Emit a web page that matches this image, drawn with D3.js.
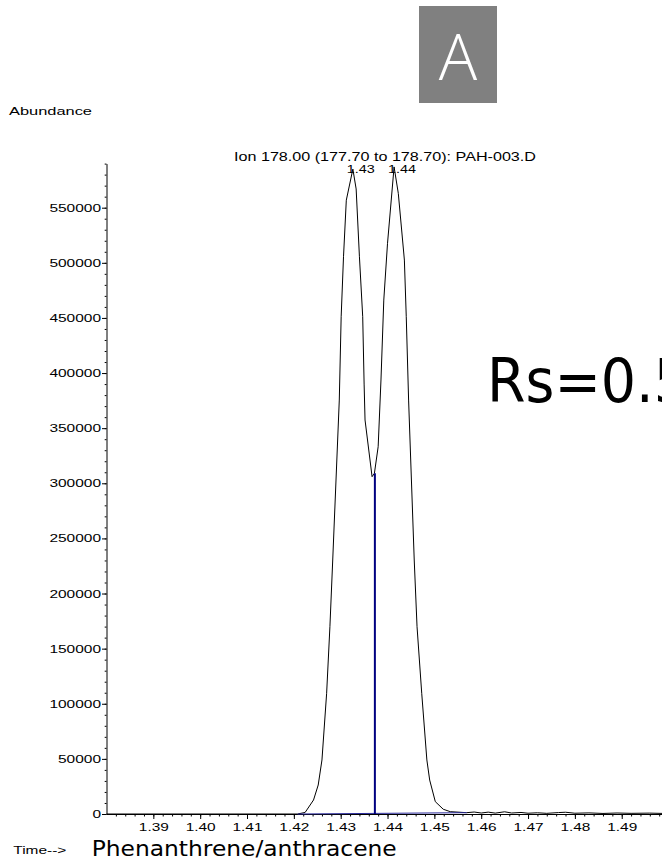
<!DOCTYPE html>
<html>
<head>
<meta charset="utf-8">
<script src="https://cdn.jsdelivr.net/npm/d3@7"></script>
<style>
  html, body { margin: 0; padding: 0; background: #fff; overflow: hidden; }
  svg { display: block; }
</style>
</head>
<body>
<svg id="chart" width="662" height="867"></svg>
<script>
// ---- data ----
const times = [1.3800, 1.4208, 1.4224, 1.4242, 1.4252, 1.4260, 1.4270, 1.4277, 1.4283, 1.4297,
  1.4301, 1.4306, 1.4312, 1.4326, 1.4333, 1.4340, 1.4347, 1.4350, 1.4352, 1.4367,
  1.4372, 1.4380, 1.4386, 1.4392, 1.4400, 1.4414, 1.4423, 1.4436, 1.4440, 1.4445,
  1.4457, 1.4463, 1.4473, 1.4484, 1.4490, 1.4502, 1.4519, 1.4534, 1.4569,
  1.4585, 1.4600, 1.4615, 1.4630, 1.4650, 1.4665, 1.4685, 1.4700, 1.4720, 1.4740,
  1.4765, 1.4780, 1.4800, 1.4830, 1.4860, 1.4890, 1.4920, 1.4960, 1.4990];
const abundance = [0, 0, 1400, 12700, 26300, 49000, 109500, 169900, 230400, 375500,
  451100, 505500, 556800, 585000, 567000, 505500, 451100, 390000, 357400, 306000,
  309000, 333200, 393700, 466200, 517700, 587000, 563000, 502500, 451100, 375500,
  230400, 169900, 109500, 49000, 30800, 11200, 4300, 2100, 1200,
  1800, 900, 1700, 800, 2000, 900, 1400, 700, 1100, 600,
  1300, 1600, 700, 1000, 500, 900, 600, 800, 500];

const peakTimes = [1.4326, 1.4414];
const peakLabels = ["1.43", "1.44"];
const splitTime = 1.4373;       // perpendicular drop between the two peaks
const splitValue = 309000;
const baselineTimes = [1.4208, 1.4569];
const baselineValues = [0, 1200];

const yTicks = [0, 50000, 100000, 150000, 200000, 250000, 300000, 350000, 400000, 450000, 500000, 550000];
const yMinorTicks = d3.range(0, 590001, 10000);
const xTicks = [1.39, 1.40, 1.41, 1.42, 1.43, 1.44, 1.45, 1.46, 1.47, 1.48, 1.49];
const xMinorTicks = d3.range(1382, 1499, 2).map(v => v / 1000);

const titleText = "Ion 178.00 (177.70 to 178.70): PAH-003.D";
const yLabel = "Abundance";
const xLabel = "Time-->";
const compoundText = "Phenanthrene/anthracene";
const rsText = "Rs=0.5";
const panelText = "A";

// ---- drawing ----
const svg = d3.select("#chart");
svg.append("rect").attr("width", 662).attr("height", 867).attr("fill", "#fff");

const x = d3.scaleLinear().domain([1.38, 1.4986]).range([106.5, 662]);
const y = d3.scaleLinear().domain([0, 590000]).range([814, 163.6]);

const chartFont = "'Liberation Sans', Arial, sans-serif";

// panel box "A"
svg.append("rect").attr("x", 419).attr("y", 6).attr("width", 78).attr("height", 97).attr("fill", "#808080");
svg.append("text").attr("x", 458).attr("y", 80).attr("text-anchor", "middle")
  .attr("font-family", "'Open Sans', 'DejaVu Sans', sans-serif").attr("font-weight", 300)
  .attr("font-size", 64).attr("fill", "#fff").text(panelText);

// Abundance label
svg.append("text").attr("x", 9).attr("y", 115).attr("font-family", chartFont)
  .attr("font-size", 11).attr("textLength", 83).attr("lengthAdjust", "spacingAndGlyphs")
  .attr("fill", "#000").text(yLabel);

// title
svg.append("text").attr("x", 234).attr("y", 160.7).attr("font-family", chartFont)
  .attr("font-size", 12.5).attr("textLength", 302).attr("lengthAdjust", "spacingAndGlyphs")
  .attr("fill", "#000").text(titleText);

// y axis minor ticks
const yMinor = svg.append("g").attr("transform", "translate(106.5,0)")
  .call(d3.axisLeft(y).tickValues(yMinorTicks).tickSize(1.8).tickSizeOuter(0).tickFormat(""));
yMinor.select(".domain").remove();
yMinor.selectAll("line").attr("stroke", "#000");

// y axis major
const yAx = svg.append("g").attr("transform", "translate(106.5,0)")
  .call(d3.axisLeft(y).tickValues(yTicks).tickSize(4.5).tickSizeOuter(0).tickPadding(1)
    .tickFormat(d3.format("d")));
yAx.select(".domain").attr("stroke", "#000");
yAx.selectAll("line").attr("stroke", "#000");
yAx.selectAll("text").attr("font-family", chartFont).attr("font-size", 11).attr("fill", "#000")
  .attr("textLength", d => String(d).length * 8.6).attr("lengthAdjust", "spacingAndGlyphs");

// x axis minor ticks
const xMinor = svg.append("g").attr("transform", "translate(0,814)")
  .call(d3.axisBottom(x).tickValues(xMinorTicks).tickSize(2.5).tickSizeOuter(0).tickFormat(""));
xMinor.select(".domain").remove();
xMinor.selectAll("line").attr("stroke", "#000");

// x axis major
const xAx = svg.append("g").attr("transform", "translate(0,814)")
  .call(d3.axisBottom(x).tickValues(xTicks).tickSize(5).tickSizeOuter(0).tickPadding(4.5)
    .tickFormat(d3.format(".2f")));
xAx.select(".domain").attr("stroke", "#000");
xAx.selectAll("line").attr("stroke", "#000");
xAx.selectAll("text").attr("font-family", chartFont).attr("font-size", 11).attr("fill", "#000")
  .attr("textLength", 30).attr("lengthAdjust", "spacingAndGlyphs");

// chromatogram trace
const pts = times.map((t, i) => [t, abundance[i]]);
const line = d3.line().x(d => x(d[0])).y(d => y(d[1]));
svg.append("path").datum(pts).attr("d", line)
  .attr("fill", "none").attr("stroke", "#000").attr("stroke-width", 1)
  .attr("stroke-linejoin", "round");

// integration baseline
svg.append("path").datum(baselineTimes.map((t, i) => [t, baselineValues[i]])).attr("d", line)
  .attr("fill", "none").attr("stroke", "#2a2a9a").attr("stroke-width", 1);

// perpendicular drop
svg.append("line").attr("x1", x(splitTime)).attr("x2", x(splitTime))
  .attr("y1", y(splitValue)).attr("y2", y(0))
  .attr("stroke", "#000080").attr("stroke-width", 2);

// peak labels
svg.selectAll(".plabel").data(peakTimes).enter().append("text")
  .attr("class", "plabel")
  .attr("x", d => x(d) - 6).attr("y", 173.3)
  .attr("font-family", chartFont).attr("font-size", 11).attr("fill", "#000")
  .attr("textLength", 28).attr("lengthAdjust", "spacingAndGlyphs")
  .text((d, i) => peakLabels[i]);

// Rs annotation (runs past the right edge, as in the reference)
svg.append("text").attr("x", 487).attr("y", 401.7)
  .attr("font-family", "'DejaVu Sans', Verdana, sans-serif").attr("font-size", 61)
  .attr("textLength", 202).attr("lengthAdjust", "spacingAndGlyphs")
  .attr("fill", "#000").text(rsText);

// Time--> label
svg.append("text").attr("x", 13.3).attr("y", 854).attr("font-family", chartFont)
  .attr("font-size", 10.5).attr("textLength", 53).attr("lengthAdjust", "spacingAndGlyphs")
  .attr("fill", "#000").text(xLabel);

// compound name
svg.append("text").attr("x", 91.7).attr("y", 855.5)
  .attr("font-family", "'DejaVu Sans', Verdana, sans-serif").attr("font-size", 21)
  .attr("textLength", 305).attr("lengthAdjust", "spacingAndGlyphs")
  .attr("fill", "#000").text(compoundText);
</script>
</body>
</html>
